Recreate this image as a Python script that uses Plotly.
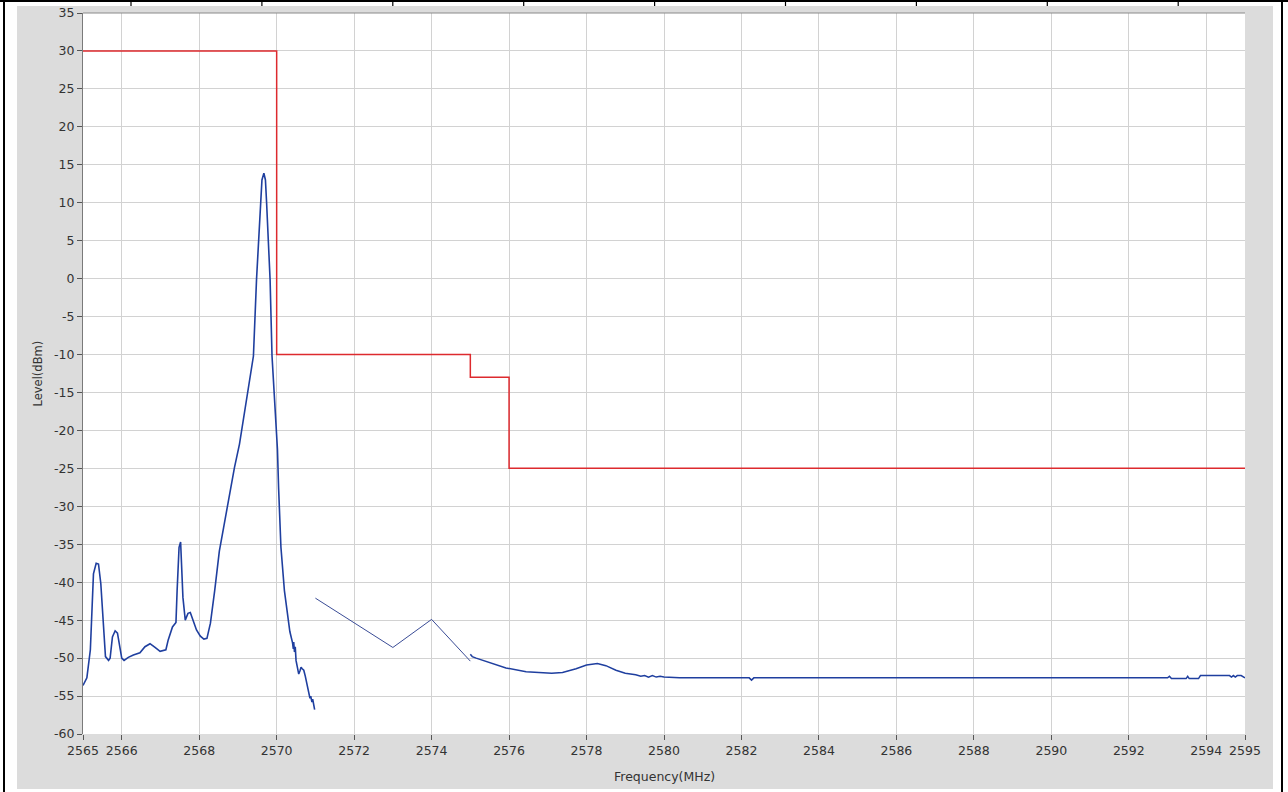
import plotly.graph_objects as go

# Spectrum emission mask (step line)
MASK_FREQ = [2565, 2570, 2575, 2576, 2595]
MASK_LEVEL = [30, -10, -13, -25, -25]

# Measured spectrum, first swept segment (around the carrier)
SEG1_FREQ = [
    2565.00, 2565.10, 2565.19, 2565.27, 2565.34, 2565.40, 2565.46, 2565.53, 2565.58,
    2565.66, 2565.70, 2565.76, 2565.83, 2565.89, 2565.94, 2566.00, 2566.06, 2566.17,
    2566.30, 2566.47, 2566.60, 2566.73, 2566.86, 2566.99, 2567.14, 2567.20, 2567.31,
    2567.40, 2567.43, 2567.48, 2567.52, 2567.54, 2567.58, 2567.64, 2567.71, 2567.77,
    2567.84, 2567.93, 2568.03, 2568.12, 2568.20, 2568.29, 2568.40, 2568.52, 2568.63,
    2568.78, 2568.91, 2569.04, 2569.23, 2569.40, 2569.48, 2569.58, 2569.62, 2569.67,
    2569.71, 2569.74, 2569.83, 2569.88, 2569.94, 2570.02, 2570.05, 2570.11, 2570.20,
    2570.28, 2570.34, 2570.41, 2570.43, 2570.44, 2570.46, 2570.48, 2570.50, 2570.53,
    2570.55, 2570.57, 2570.60, 2570.63, 2570.66, 2570.70, 2570.74, 2570.77, 2570.80,
    2570.83, 2570.86, 2570.88, 2570.91, 2570.93, 2570.96, 2570.98,
]
SEG1_LEVEL = [
    -53.6, -52.6, -48.9, -38.9, -37.5, -37.6, -40.2, -45.4, -49.8,
    -50.3, -50.0, -47.2, -46.4, -46.7, -48.0, -50.0, -50.3, -49.9,
    -49.6, -49.3, -48.5, -48.1, -48.6, -49.1, -48.9, -47.6, -45.9,
    -45.3, -41.1, -35.4, -34.7, -37.2, -42.0, -45.0, -44.1, -44.0,
    -45.0, -46.3, -47.1, -47.5, -47.4, -45.4, -41.1, -35.9, -32.8,
    -28.5, -24.9, -21.8, -15.9, -10.2, -0.1, 10.0, 13.0, 13.9,
    13.0, 10.0, -0.1, -10.2, -15.9, -22.5, -27.6, -35.4, -41.1,
    -44.6, -46.5, -48.0, -48.8, -47.9, -49.2, -48.5, -50.3, -51.1,
    -51.9, -52.1, -51.7, -51.2, -51.4, -51.6, -52.4, -53.2, -54.2,
    -54.8, -55.3, -55.0, -55.8, -55.4, -56.3, -56.8,
]

# Coarse segment between 2571 and 2575 MHz
SEG2_FREQ = [2571.0, 2573.0, 2574.0, 2575.0]
SEG2_LEVEL = [-42.1, -48.6, -44.9, -50.4]

# Far-out segment up to 2595 MHz
SEG3_FREQ = [
    2575.00, 2575.05, 2575.15, 2575.50, 2575.92, 2576.44, 2576.78, 2577.10, 2577.38,
    2577.73, 2578.00, 2578.28, 2578.50, 2578.76, 2579.00, 2579.27, 2579.40, 2579.50,
    2579.60, 2579.70, 2579.80, 2579.90, 2580.00, 2580.40, 2582.20, 2582.26, 2582.32,
    2586.00, 2590.00, 2593.00, 2593.05, 2593.10, 2593.48, 2593.52, 2593.56, 2593.80,
    2593.85, 2594.60, 2594.65, 2594.70, 2594.75, 2594.80, 2594.90, 2595.00,
]
SEG3_LEVEL = [
    -49.5, -49.8, -50.0, -50.6, -51.3, -51.8, -51.9, -52.0, -51.9,
    -51.4, -50.9, -50.7, -51.0, -51.6, -52.0, -52.2, -52.4, -52.3,
    -52.5, -52.3, -52.5, -52.4, -52.5, -52.6, -52.6, -52.9, -52.6,
    -52.6, -52.6, -52.6, -52.4, -52.7, -52.7, -52.4, -52.7, -52.7,
    -52.3, -52.3, -52.5, -52.3, -52.5, -52.3, -52.3, -52.6,
]

X_TICKS = [2565, 2566, 2568, 2570, 2572, 2574, 2576, 2578, 2580, 2582,
           2584, 2586, 2588, 2590, 2592, 2594, 2595]
Y_TICKS = list(range(-60, 40, 5))

W, H = 1288, 792
PL, PR, PT, PB = 83, 1245, 13, 734  # plot area in pixels
BLUE = "#1f3f9f"
RED = "#dd2a2e"
PANEL = "#dcdcdc"
FONT = "DejaVu Sans, Open Sans, sans-serif"


def px(x):
    return (x - PL) / (PR - PL)


def py(y):
    return (PB - y) / (PB - PT)


fig = go.Figure()
fig.add_trace(go.Scatter(x=MASK_FREQ, y=MASK_LEVEL, mode="lines", line_shape="hv",
                         line=dict(color=RED, width=1.5), showlegend=False))
fig.add_trace(go.Scatter(x=SEG1_FREQ, y=SEG1_LEVEL, mode="lines",
                         line=dict(color=BLUE, width=1.6), showlegend=False))
fig.add_trace(go.Scatter(x=SEG2_FREQ, y=SEG2_LEVEL, mode="lines",
                         line=dict(color="#3a4c96", width=1), showlegend=False))
fig.add_trace(go.Scatter(x=SEG3_FREQ, y=SEG3_LEVEL, mode="lines",
                         line=dict(color=BLUE, width=1.5), showlegend=False))

shapes = [
    # white outer frame around the grey panel
    dict(x0=px(0), x1=px(17), y0=py(H), y1=py(0), fillcolor="white"),
    dict(x0=px(1273), x1=px(W), y0=py(H), y1=py(0), fillcolor="white"),
    dict(x0=px(0), x1=px(W), y0=py(6), y1=py(0), fillcolor="white"),
    dict(x0=px(0), x1=px(W), y0=py(H), y1=py(789), fillcolor="white"),
    # black table borders
    dict(x0=px(3), x1=px(5), y0=py(H), y1=py(0), fillcolor="black"),
    dict(x0=px(1281), x1=px(1283), y0=py(H), y1=py(0), fillcolor="black"),
    dict(x0=px(0), x1=px(W), y0=py(2), y1=py(0), fillcolor="black"),
]
for k in range(9):
    xc = 131 + 130.9 * k
    shapes.append(dict(x0=px(xc - 0.6), x1=px(xc + 0.6), y0=py(6), y1=py(0), fillcolor="black"))
for s in shapes:
    s.update(type="rect", xref="paper", yref="paper", line=dict(width=0), layer="above")
# top edge of the plot area
shapes.append(dict(type="line", xref="paper", yref="paper", x0=0, x1=1, y0=1, y1=1,
                   line=dict(color="#8a8a8a", width=1), layer="above"))

fig.update_layout(
    width=W, height=H,
    margin=dict(l=PL, r=W - PR, t=PT, b=H - PB, pad=0),
    paper_bgcolor=PANEL,
    plot_bgcolor="white",
    font=dict(family=FONT, size=12.5, color="#333333"),
    shapes=shapes,
    annotations=[
        dict(text="Frequency(MHz)", xref="paper", yref="paper", x=0.5, y=py(776),
             showarrow=False, font=dict(family=FONT, size=12.5, color="#333333"),
             xanchor="center", yanchor="middle"),
        dict(text="Level(dBm)", xref="paper", yref="paper", x=px(37), y=0.5, textangle=-90,
             showarrow=False, font=dict(family=FONT, size=11.5, color="#333333"),
             xanchor="center", yanchor="middle"),
    ],
)
fig.update_xaxes(
    range=[2565, 2595], tickvals=X_TICKS, ticktext=[str(t) for t in X_TICKS],
    showgrid=True, gridcolor="#d2d2d2", gridwidth=1, zeroline=False, automargin=False,
    ticks="outside", ticklen=5, tickcolor="#555555", showline=False,
)
fig.update_yaxes(
    range=[-60, 35], tickvals=Y_TICKS, ticktext=[str(t) for t in Y_TICKS],
    showgrid=True, gridcolor="#d2d2d2", gridwidth=1,
    zeroline=False, automargin=False, ticks="outside", ticklen=5, tickcolor="#555555",
    showline=True, linecolor="#7a7a7a", linewidth=1,
)

# drop the browser's default body margin so the figure starts at the page corner
fig.write_html("out.html", config={"displayModeBar": False},
               post_script="document.body.style.margin='0';")
